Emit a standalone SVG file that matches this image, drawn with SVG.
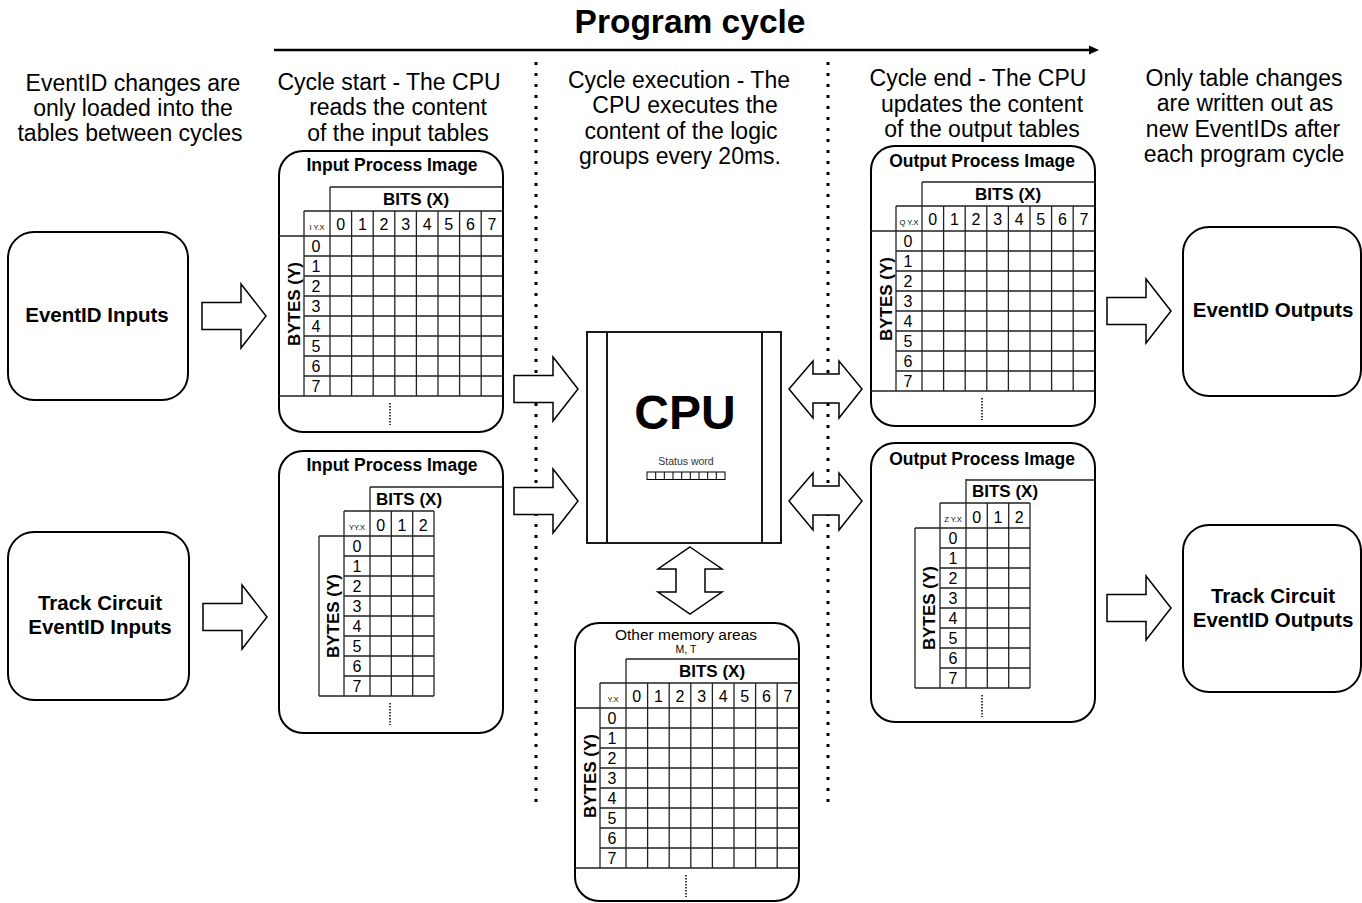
<svg xmlns="http://www.w3.org/2000/svg" xmlns:xlink="http://www.w3.org/1999/xlink" width="1362" height="903" viewBox="0 0 1362 903">
<style>
text{font-family:"Liberation Sans",Arial,Helvetica,sans-serif;fill:#000}
.node{fill:#fff;stroke:#000;stroke-width:2}
.lbl{font-weight:bold;font-size:20.5px;text-anchor:middle}
.cap{font-size:23px;text-anchor:middle}
.tbl{fill:#fff;stroke:#000;stroke-width:2}
.grid{stroke:#222;stroke-width:1.3;fill:none}
.dig{font-size:16px;text-anchor:middle}
.ttl{font-weight:bold;font-size:17.5px;text-anchor:middle}
.bits{font-weight:bold;font-size:17px;text-anchor:middle}
.tiny{font-size:7.5px;text-anchor:middle}
.dots{stroke:#000;stroke-width:1.5;stroke-dasharray:1.5 1.5;fill:none}
.vdot{stroke:#000;stroke-width:3;stroke-dasharray:3 8;fill:none}
.barrow{fill:#fff;stroke:#000;stroke-width:1.5}
</style>
<defs>
<path id="ar" class="barrow" d="M0,-13.5 H39 V-32 L64,0 L39,32 V13.5 H0 Z"/>
<path id="dar" class="barrow" d="M0,0 L24,-28 V-15 H50 V-28 L73,0 L50,29 V14 H24 V29 Z"/>
<g id="g8">
<path class="grid" d="M51,36 H224 M25,60 H224 M0,85 H224 M25,105 H224 M25,125 H224 M25,145 H224 M25,165 H224 M25,185 H224 M25,205 H224 M25,225 H224 M0,245 H224 M25,60 V245 M51,36 V245 M72.6,60 V245 M94.2,60 V245 M115.8,60 V245 M137.4,60 V245 M159,60 V245 M180.6,60 V245 M202.2,60 V245"/>
<text class="bits" x="137" y="54">BITS (X)</text>
<text class="bits" transform="translate(21,153) rotate(-90)">BYTES (Y)</text>
<text class="dig" x="61.8 83.4 105 126.6 148.2 169.8 191.4 213" y="79">01234567</text>
<text class="dig" x="37 37 37 37 37 37 37 37" y="100.5 120.5 140.5 160.5 180.5 200.5 220.5 240.5">01234567</text>
<path class="dots" d="M111,252 V274"/>
</g>
<g id="g3">
<path class="grid" d="M65,60 H155 M40,85 H155 M65,105 H155 M65,125 H155 M65,145 H155 M65,165 H155 M65,185 H155 M65,205 H155 M65,225 H155 M40,245 H155 M40,85 V245 M65,60 V245 M91,36 V245 M112.3,60 V245 M133.7,60 V245 M155,60 V245"/>
<text class="bits" x="130" y="54">BITS (X)</text>
<text class="bits" transform="translate(60,165) rotate(-90)">BYTES (Y)</text>
<text class="dig" x="101.7 123 144.3" y="80">012</text>
<text class="dig" x="78 78 78 78 78 78 78 78" y="100.5 120.5 140.5 160.5 180.5 200.5 220.5 240.5">01234567</text>
</g>
</defs>
<rect width="1362" height="903" fill="#fff"/>

<g id="header">
<text x="690" y="33" style="font-weight:bold;font-size:33.5px;text-anchor:middle">Program cycle</text>
<path d="M274,50 H1092" stroke="#000" stroke-width="2.5"/>
<polygon points="1089,45.5 1099,50 1089,54.5" fill="#000"/>
<path class="vdot" d="M536,62 V808"/>
<path class="vdot" d="M828,62 V808"/>
</g>

<g id="captions">
<text class="cap" x="133" y="91">EventID changes are</text>
<text class="cap" x="133" y="116">only loaded into the</text>
<text class="cap" x="130" y="141">tables between cycles</text>
<text class="cap" x="389" y="90">Cycle start - The CPU</text>
<text class="cap" x="398" y="115">reads the content</text>
<text class="cap" x="398" y="141">of the input tables</text>
<text class="cap" x="679" y="88">Cycle execution - The</text>
<text class="cap" x="685" y="113">CPU executes the</text>
<text class="cap" x="681" y="139">content of the logic</text>
<text class="cap" x="680" y="164">groups every 20ms.</text>
<text class="cap" x="978" y="86">Cycle end - The CPU</text>
<text class="cap" x="982" y="112">updates the content</text>
<text class="cap" x="982" y="137">of the output tables</text>
<text class="cap" x="1244" y="86">Only table changes</text>
<text class="cap" x="1245" y="111">are written out as</text>
<text class="cap" x="1243" y="137">new EventIDs after</text>
<text class="cap" x="1244" y="162">each program cycle</text>
</g>

<g id="eventid-inputs">
<rect class="node" x="8" y="232" width="180" height="168" rx="26"/>
<text class="lbl" x="97" y="322">EventID Inputs</text>
</g>
<g id="track-inputs">
<rect class="node" x="8" y="532" width="181" height="168" rx="26"/>
<text class="lbl" x="100" y="610">Track Circuit</text>
<text class="lbl" x="100" y="634">EventID Inputs</text>
</g>
<g id="eventid-outputs">
<rect class="node" x="1183" y="227" width="178" height="169" rx="26"/>
<text class="lbl" x="1273" y="317">EventID Outputs</text>
</g>
<g id="track-outputs">
<rect class="node" x="1183" y="525" width="178" height="167" rx="26"/>
<text class="lbl" x="1273" y="603">Track Circuit</text>
<text class="lbl" x="1273" y="627">EventID Outputs</text>
</g>

<g id="input-image-1" transform="translate(279,151)">
<rect class="tbl" x="0" y="0" width="224" height="281" rx="24"/>
<use xlink:href="#g8" href="#g8"/>
<text class="ttl" x="113" y="20">Input Process Image</text>
<text class="tiny" x="38" y="79">I Y.X</text>
</g>

<g id="input-image-2" transform="translate(279,451)">
<rect class="tbl" x="0" y="0" width="224" height="282" rx="24"/>
<path class="grid" d="M91,36 H224"/>
<use xlink:href="#g3" href="#g3"/>
<path class="dots" d="M111,252 V274"/>
<text class="ttl" x="113" y="20">Input Process Image</text>
<text class="tiny" x="78" y="79">YY.X</text>
</g>

<g id="output-image-1" transform="translate(871,146)">
<rect class="tbl" x="0" y="0" width="224" height="280" rx="24"/>
<use xlink:href="#g8" href="#g8"/>
<text class="ttl" x="111" y="21">Output Process Image</text>
<text class="tiny" x="38" y="79">Q Y.X</text>
</g>

<g id="output-image-2" transform="translate(871,443)">
<rect class="tbl" x="0" y="0" width="224" height="279" rx="24"/>
<path class="grid" d="M95,37 H224"/>
<use xlink:href="#g3" href="#g3" x="4"/>
<path class="dots" d="M111,252 V274"/>
<text class="ttl" x="111" y="22">Output Process Image</text>
<text class="tiny" x="82" y="79">Z Y.X</text>
</g>

<g id="memory-areas" transform="translate(575,623)">
<rect class="tbl" x="0" y="0" width="224" height="278" rx="24"/>
<use xlink:href="#g8" href="#g8"/>
<text x="111" y="17" style="font-size:15.5px;text-anchor:middle">Other memory areas</text>
<text x="111" y="30" style="font-size:10.5px;text-anchor:middle">M, T</text>
<text class="tiny" x="38" y="79">Y.X</text>
</g>

<g id="cpu">
<rect x="587" y="332" width="194" height="211" fill="#fff" stroke="#000" stroke-width="1.8"/>
<path d="M607,332 V543 M762,332 V543" stroke="#000" stroke-width="1.8"/>
<text x="685" y="429" style="font-weight:bold;font-size:48px;text-anchor:middle">CPU</text>
<text x="686" y="465" style="font-size:10.5px;text-anchor:middle;fill:#333">Status word</text>
<rect x="647" y="472" width="78" height="7.5" fill="#fff" stroke="#000" stroke-width="1"/>
<path d="M655.7,472 V479.5 M664.3,472 V479.5 M673,472 V479.5 M681.7,472 V479.5 M690.3,472 V479.5 M699,472 V479.5 M707.7,472 V479.5 M716.3,472 V479.5" stroke="#000" stroke-width="1"/>
</g>

<g id="connectors">
<use xlink:href="#ar" href="#ar" transform="translate(202,316)"/>
<use xlink:href="#ar" href="#ar" transform="translate(203,617)"/>
<use xlink:href="#ar" href="#ar" transform="translate(514,389)"/>
<use xlink:href="#ar" href="#ar" transform="translate(514,501)"/>
<use xlink:href="#ar" href="#ar" transform="translate(1107,311)"/>
<use xlink:href="#ar" href="#ar" transform="translate(1107,608)"/>
<use xlink:href="#dar" href="#dar" transform="translate(789,389)"/>
<use xlink:href="#dar" href="#dar" transform="translate(789,501)"/>
<path class="barrow" d="M690,547 L722,569 H705 V592 H722 L690,614 L658,592 H676 V569 H658 Z"/>
</g>
</svg>
